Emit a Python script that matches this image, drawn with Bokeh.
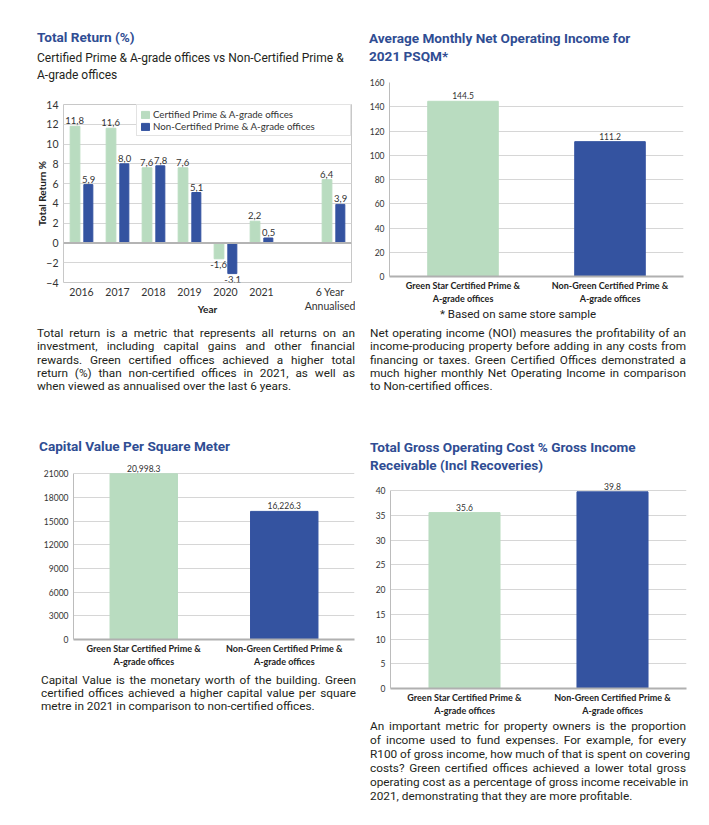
from bokeh.plotting import figure
from bokeh.models import (ColumnDataSource, FactorRange, Div, Span, Legend, LegendItem,
                          FixedTicker)
from bokeh.layouts import column, row
from bokeh.transform import dodge
from bokeh.embed import file_html
from bokeh.resources import INLINE

# ---------------- data ----------------
tr_axis_factors = ["2016", "2017", "2018", "2019", "2020", "2021", " ", "6 Year\nAnnualised"]
tr_years = ["2016", "2017", "2018", "2019", "2020", "2021", "6 Year\nAnnualised"]
tr_certified = [11.8, 11.6, 7.6, 7.6, -1.6, 2.2, 6.4]
tr_non_certified = [5.9, 8.0, 7.8, 5.1, -3.1, 0.5, 3.9]
tr_ticks = [-4, -2, 0, 2, 4, 6, 8, 10, 12, 14]
tr_series = ["Certified Prime & A-grade offices", "Non-Certified Prime & A-grade offices"]

cmp_categories = ["Green Star Certified Prime &\nA-grade offices",
                  "Non-Green Certified Prime &\nA-grade offices"]
noi_values = [144.5, 111.2]
noi_ticks = [0, 20, 40, 60, 80, 100, 120, 140, 160]
cv_values = [20998.3, 16226.3]
cv_ticks = [0, 3000, 6000, 9000, 12000, 15000, 18000, 21000]
goc_values = [35.6, 39.8]
goc_ticks = [0, 5, 10, 15, 20, 25, 30, 35, 40]

GREEN = "#b9dcc0"
BLUE = "#3453a0"
TITLE = "#2f4d93"
GRID = "#d6d6d6"
AXIS = "#bcbcbc"
TXT = "#333333"
CFONT = "Lato"
BFONT = "Roboto"


def style_axes(p, size):
    for ax in (p.xaxis, p.yaxis):
        ax.major_tick_line_color = None
        ax.minor_tick_line_color = None
        ax.major_tick_out = 0
        ax.major_tick_in = 0
        ax.minor_tick_out = 0
        ax.minor_tick_in = 0
        ax.major_label_text_font = CFONT
        ax.major_label_text_font_size = size
        ax.major_label_text_color = TXT
    p.xgrid.visible = False
    p.ygrid.grid_line_color = GRID
    p.background_fill_color = "white"
    p.border_fill_color = "white"


# ---------------- chart 1: total return ----------------
p1 = figure(x_range=FactorRange(factors=tr_axis_factors), y_range=(-4, 14),
            output_backend="svg", toolbar_location=None,
            min_border_top=22, min_border_left=40, min_border_right=4, min_border_bottom=40)
style_axes(p1, "10.5px")
p1.yaxis.ticker = FixedTicker(ticks=tr_ticks)
p1.yaxis.axis_line_color = None
p1.xaxis.axis_line_color = None
p1.yaxis.major_label_standoff = 5
p1.xaxis.major_label_standoff = 3
p1.yaxis.axis_label = "Total Return %"
p1.yaxis.axis_label_standoff = -5
p1.xaxis.axis_label = "Year"
p1.xaxis.axis_label_standoff = -12
for ax in (p1.xaxis, p1.yaxis):
    ax.axis_label_text_font = CFONT
    ax.axis_label_text_font_size = "10px"
    ax.axis_label_text_font_style = "bold"
    ax.axis_label_text_color = "#222222"
p1.outline_line_color = "#c8c8c8"
p1.add_layout(Span(location=0, dimension="width", line_color="#b4b4b4", line_width=2))

src_c = ColumnDataSource(dict(x=tr_years, y=tr_certified,
                              lab=[f"{v:.1f}".replace(".", ",") for v in tr_certified]))
src_n = ColumnDataSource(dict(x=tr_years, y=tr_non_certified,
                              lab=[f"{v:.1f}".replace(".", ",") for v in tr_non_certified]))
r_c = p1.vbar(x=dodge("x", -0.18, range=p1.x_range), top="y", bottom=0, width=0.27,
              color=GREEN, source=src_c)
r_n = p1.vbar(x=dodge("x", 0.19, range=p1.x_range), top="y", bottom=0, width=0.25,
              color=BLUE, source=src_n)


def split(xs, ys, labs, pos):
    keep = [(x, y, l) for x, y, l in zip(xs, ys, labs) if (y >= 0) == pos]
    return ColumnDataSource(dict(x=[k[0] for k in keep], y=[k[1] for k in keep],
                                 lab=[k[2] for k in keep]))


for src, off in ((src_c, -0.19), (src_n, 0.2)):
    d = src.data
    for pos in (True, False):
        s = split(d["x"], d["y"], d["lab"], pos)
        p1.text(x=dodge("x", off, range=p1.x_range), y="y", text="lab", source=s,
                text_align="center", text_baseline="bottom" if pos else "top",
                y_offset=-2 if pos else 2, text_font_size="9.5px", text_color=TXT,
                text_font={"value": CFONT})

legend = Legend(items=[LegendItem(label=tr_series[0], renderers=[r_c]),
                       LegendItem(label=tr_series[1], renderers=[r_n])],
                location="top_right", label_text_font=CFONT, label_text_font_size="9.7px",
                label_text_color=TXT, glyph_width=10, glyph_height=9, label_height=9,
                label_width=194, label_standoff=3, padding=3, spacing=0, margin=0,
                border_line_color="#c8c8c8", background_fill_color="white",
                background_fill_alpha=1)
p1.add_layout(legend)


# ---------------- two-bar charts ----------------
def two_bar(values, ticks, yend, fmt, mb, bounds):
    p = figure(x_range=FactorRange(factors=cmp_categories), y_range=(0, yend),
               output_backend="svg", toolbar_location=None,
               min_border_top=mb[0], min_border_left=mb[1], min_border_right=mb[2],
               min_border_bottom=mb[3])
    style_axes(p, "8.5px")
    p.yaxis.ticker = FixedTicker(ticks=ticks)
    p.yaxis.axis_line_color = AXIS
    p.xaxis.axis_line_color = "#b0b0b0"
    p.xaxis.axis_line_width = 2
    p.xaxis.major_label_text_font_style = "bold"
    p.xaxis.major_label_text_font_size = "9px"
    p.xaxis.major_label_text_color = "#222222"
    p.yaxis.major_label_standoff = 5
    p.xaxis.major_label_standoff = 3
    if bounds is not None:
        p.yaxis.bounds = bounds
    p.outline_line_color = None
    src = ColumnDataSource(dict(x=cmp_categories, y=values, color=[GREEN, BLUE],
                                lab=[fmt(v) for v in values]))
    p.vbar(x="x", top="y", bottom=0, width=0.48, color="color", source=src)
    p.text(x="x", y="y", text="lab", source=src, text_align="center",
           text_baseline="bottom", y_offset=-2, text_font_size="8.5px",
           text_color=TXT, text_font={"value": CFONT})
    return p


p2 = two_bar(noi_values, noi_ticks, 160, lambda v: f"{v:.1f}", (12, 26, 4, 30), None)
p3 = two_bar(cv_values, cv_ticks, 22800, lambda v: f"{v:,.1f}", (5, 36, 3, 30), (0, 21000))
p4 = two_bar(goc_values, goc_ticks, 42.5, lambda v: f"{v:.1f}", (2, 22, 4, 30), (0, 40))


# ---------------- texts ----------------
def title_div(text, lh, w):
    return Div(text=f"<div style='font-family:{BFONT};font-weight:bold;font-size:13.6px;"
                    f"line-height:{lh}px;color:{TITLE};white-space:nowrap;width:{w}px'>{text}</div>")


def para_div(lines, size, lh, w):
    parts = []
    for i, ln in enumerate(lines):
        al = "left" if i == len(lines) - 1 else "justify"
        parts.append(f"<div style='width:{w}px;white-space:nowrap;text-align:{al};"
                     f"text-align-last:{al}'>{ln}</div>")
    return Div(text=f"<div style='width:{w}px;font-family:{BFONT};font-size:{size}px;"
                    f"line-height:{lh}px;color:#231f20'>" + "".join(parts) + "</div>")


PS = 11.8
t1 = title_div("Total Return (%)", 18, 318)
sub1 = Div(text=f"<div style='font-family:{BFONT};font-size:12px;line-height:16.5px;"
                f"color:#231f20;white-space:nowrap'>Certified Prime &amp; A-grade offices vs "
                f"Non-Certified Prime &amp;<br>A-grade offices</div>")
para1 = para_div(["Total return is a metric that represents all returns on an",
                  "investment, including capital gains and other financial",
                  "rewards. Green certified offices achieved a higher total",
                  "return (%) than non-certified offices in 2021, as well as",
                  "when viewed as annualised over the last 6 years."], PS, 13.3, 318)
t2 = title_div("Average Monthly Net Operating Income for<br>2021 PSQM*", 18, 322)
foot = Div(text=f"<div style='font-family:{BFONT};font-size:11.5px;line-height:13px;"
                f"color:#222;white-space:nowrap'>* Based on same store sample</div>")
para2 = para_div(["Net operating income (NOI) measures the profitability of an",
                  "income-producing property before adding in any costs from",
                  "financing or taxes. Green Certified Offices demonstrated a",
                  "much higher monthly Net Operating Income in comparison",
                  "to Non-certified offices."], PS, 13.3, 316)
t3 = title_div("Capital Value Per Square Meter", 16, 318)
para3 = para_div(["Capital Value is the monetary worth of the building. Green",
                  "certified offices achieved a higher capital value per square",
                  "metre in 2021 in comparison to non-certified offices."], PS, 13, 315)
t4 = title_div("Total Gross Operating Cost % Gross Income<br>Receivable (Incl Recoveries)", 18, 322)
para4 = para_div(["An important metric for property owners is the proportion",
                  "of income used to fund expenses. For example, for every",
                  "R100 of gross income, how much of that is spent on covering",
                  "costs? Green certified offices achieved a lower total gross",
                  "operating cost as a percentage of gross income receivable in",
                  "2021, demonstrating that they are more profitable."], PS, 13.9, 316)


def stack(items, col_x, col_w):
    y = 0
    kids = []
    for el, top, left, w, h in items:
        el.width = w
        el.height = h
        el.margin = (top - y, col_w - (left - col_x) - w, 0, left - col_x)
        y = top + h
        kids.append(el)
    return column(*kids, spacing=0)


left = stack([(t1, 28, 37, 318, 18),
              (sub1, 50, 37, 320, 32),
              (p1, 82, 23, 332, 240),
              (para1, 327, 37, 318, 67),
              (t3, 438, 39, 318, 16),
              (p3, 454, 33, 325, 215),
              (para3, 674, 41, 315, 40)], 0, 360)
right = stack([(t2, 29, 369, 322, 37),
               (p2, 70, 363, 324, 236),
               (foot, 306, 440, 200, 13),
               (para2, 327, 370, 316, 67),
               (t4, 438, 370, 322, 37),
               (p4, 476, 364, 326, 242),
               (para4, 720, 370, 316, 84)], 360, 340)

layout = row(left, right, spacing=0)
open("out.html", "w").write(file_html(layout, INLINE))
